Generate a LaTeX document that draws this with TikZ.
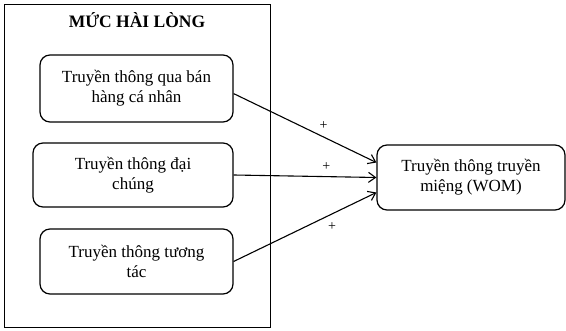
\documentclass[tikz,border=0pt]{standalone}
\usepackage{fontspec}
\setmainfont{Liberation Serif}
\usetikzlibrary{arrows.meta}
\begin{document}
\begin{tikzpicture}[x=1pt, y=-1pt, line width=1.2pt,
    hop/.style={draw, rounded corners=10pt, align=center, inner sep=0pt,
      font=\fontsize{17}{20}\selectfont},
    muiten/.style={-{Straight Barb[length=7pt,width=10pt]}, line width=1.1pt},
    dau/.style={font=\fontsize{14}{16}\selectfont}]
  \useasboundingbox (0,0) rectangle (566,331);
  \draw[line width=1pt] (4,5) rectangle (270,328);
  \node[anchor=base, font=\fontsize{17.5}{20}\selectfont\bfseries] (tieude) at (137,28) {MỨC HÀI LÒNG};

  \node[hop, minimum width=193pt, minimum height=67pt] (banhang) at (136.5,88.5) {Truyền thông qua bán\\hàng cá nhân};
  \node[hop, minimum width=200pt, minimum height=64pt] (daichung) at (133,175) {Truyền thông đại\\chúng};
  \node[hop, minimum width=193pt, minimum height=65pt] (tuongtac) at (136.5,261.5) {Truyền thông tương\\tác};
  \node[hop, minimum width=188pt, minimum height=65pt] (wom) at (471,177.5) {Truyền thông truyền\\miệng (WOM)};

  \draw[muiten] (banhang.-3) -- node[pos=0.63, above=4pt, dau] {+} (wom.171);
  \draw[muiten] (daichung.east) -- node[pos=0.65, above=2pt, dau] {+} (wom.west);
  \draw[muiten] (tuongtac.east) -- node[pos=0.69, below=5pt, dau] {+} (wom.189);
\end{tikzpicture}
\end{document}
